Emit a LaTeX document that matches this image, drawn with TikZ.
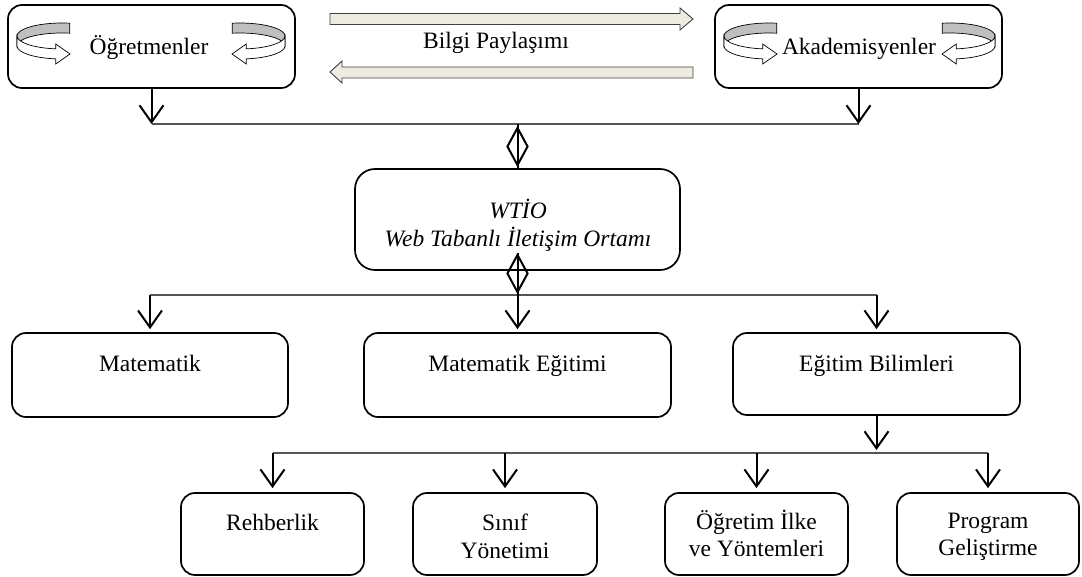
\documentclass[tikz,border=0pt]{standalone}
\usepackage{fontspec}
\setmainfont{Liberation Serif}
\usetikzlibrary{arrows.meta,shapes.geometric}
\definecolor{rotgray}{HTML}{BFBFBF}
\definecolor{beige}{HTML}{EEECE1}
\definecolor{lnk}{HTML}{555555}
\tikzset{
  box/.style={draw=black, line width=1.7pt, rounded corners=14pt, inner sep=0pt},
  txt/.style={font=\fontsize{23.5}{28}\selectfont, inner sep=0pt, anchor=base},
  arr/.style={draw=black, line width=2pt, -{Straight Barb[length=17pt,width=24pt]}},
  vline/.style={draw=black, line width=2pt},
  hline/.style={draw=lnk, line width=1.3pt},
  dia/.style={diamond, draw=black, line width=2pt, minimum width=21pt, minimum height=38pt, inner sep=0pt},
  bigarrow/.style={fill=beige, draw=black!75, line width=0.9pt, line join=miter},
  rot/.pic={
    \filldraw[fill=rotgray, draw=black, line width=0.7pt]
      (7.81,-12.80) arc[start angle=-80,end angle=-180,x radius=45,y radius=13]
      -- (-45,10) arc[start angle=180,end angle=280,x radius=45,y radius=13] -- cycle;
    \filldraw[fill=white, draw=black, line width=0.7pt]
      (-45,0) arc[start angle=180,end angle=98,x radius=45,y radius=13]
      -- (-6.26,8) -- (8,18) -- (-6.26,28) -- (-6.26,22.87)
      arc[start angle=98,end angle=180,x radius=45,y radius=13] -- cycle;
  }
}
\begin{document}
\begin{tikzpicture}[x=1pt,y=-1pt]
\useasboundingbox (0,0) rectangle (1082,577);

% top boxes
\node[box, minimum width=287pt, minimum height=83pt] (ogr) at (151.5,46.5) {};
\node[box, minimum width=287pt, minimum height=83pt] (aka) at (858.5,46.5) {};
\pic at (62,36) {rot};
\pic[xscale=-1] at (240,36) {rot};
\pic at (769,36) {rot};
\pic[xscale=-1] at (950,36) {rot};
\node[txt] (tOgr) at (149,55) {Öğretmenler};
\node[txt] (tAka) at (859,55) {Akademisyenler};

% Bilgi paylasimi arrows
\filldraw[bigarrow] (330,13.5) -- (680,13.5) -- (680,8) -- (693,19) -- (680,30) -- (680,24.5) -- (330,24.5) -- cycle;
\filldraw[bigarrow] (693,67) -- (342,67) -- (342,61) -- (330,72) -- (342,83) -- (342,78) -- (693,78) -- cycle;
\node[txt] (tBilgi) at (496,49) {Bilgi Paylaşımı};

% WTIO
\node[box, rounded corners=20pt, minimum width=325pt, minimum height=101pt] (wtio) at (517.5,219.5) {};
\node[txt] (tW1) at (518,219) {\itshape WTİO};
\node[txt] (tW2) at (518,247) {\itshape Web Tabanlı İletişim Ortamı};

% middle boxes
\node[box, minimum width=276pt, minimum height=84pt] (mat) at (150,375) {};
\node[box, minimum width=307pt, minimum height=84pt] (mate) at (517.5,375) {};
\node[box, minimum width=287pt, minimum height=82pt] (egb) at (876.5,374) {};
\node[txt] (tMat) at (150,371) {Matematik};
\node[txt] (tMate) at (517.5,371) {Matematik Eğitimi};
\node[txt] (tEgb) at (876.5,371) {Eğitim Bilimleri};

% bottom boxes
\node[box, minimum width=183pt, minimum height=82pt] (reh) at (272.5,534) {};
\node[box, minimum width=184pt, minimum height=82pt] (sin) at (505,534) {};
\node[box, minimum width=183pt, minimum height=82pt] (ogt) at (756.5,534) {};
\node[box, minimum width=182pt, minimum height=82pt] (prg) at (988,534) {};
\node[txt] (tReh) at (272.5,530) {Rehberlik};
\node[txt] (tSin1) at (505,530) {Sınıf};
\node[txt] (tSin2) at (505,558) {Yönetimi};
\node[txt] (tOgt1) at (756.5,529) {Öğretim İlke};
\node[txt] (tOgt2) at (756.5,556) {ve Yöntemleri};
\node[txt] (tPrg1) at (988,528) {Program};
\node[txt] (tPrg2) at (988,555) {Geliştirme};

% junction coordinates
\coordinate (j1) at (517.5,124);
\coordinate (j2) at (517.5,295);
\coordinate (j3) at (517.5,453);

% top connectors
\draw[hline] (ogr |- j1) -- (aka |- j1);
\draw[arr] (ogr) -- (ogr |- j1);
\draw[arr] (aka) -- (aka |- j1);
\node[dia] (d1) at (517.5,146.5) {};
\draw[vline] (j1) -- (wtio.north);

% middle connectors
\node[dia] (d2) at (517.5,273.5) {};
\draw[hline] (mat |- j2) -- (egb |- j2);
\draw[arr, shorten >=3pt] (d2.north) -- (mate.north);
\draw[arr, shorten >=3pt] (mat |- j2) -- (mat.north);
\draw[arr, shorten >=3pt] (egb |- j2) -- (egb.north);

% bottom connectors
\draw[arr] (egb.south) -- ([yshift=3pt]egb |- j3);
\draw[hline] (reh |- j3) -- (prg |- j3);
\draw[arr, shorten >=4pt] (reh |- j3) -- (reh.north);
\draw[arr, shorten >=4pt] (sin |- j3) -- (sin.north);
\draw[arr, shorten >=4pt] (ogt |- j3) -- (ogt.north);
\draw[arr, shorten >=4pt] (prg |- j3) -- (prg.north);
\end{tikzpicture}
\end{document}
